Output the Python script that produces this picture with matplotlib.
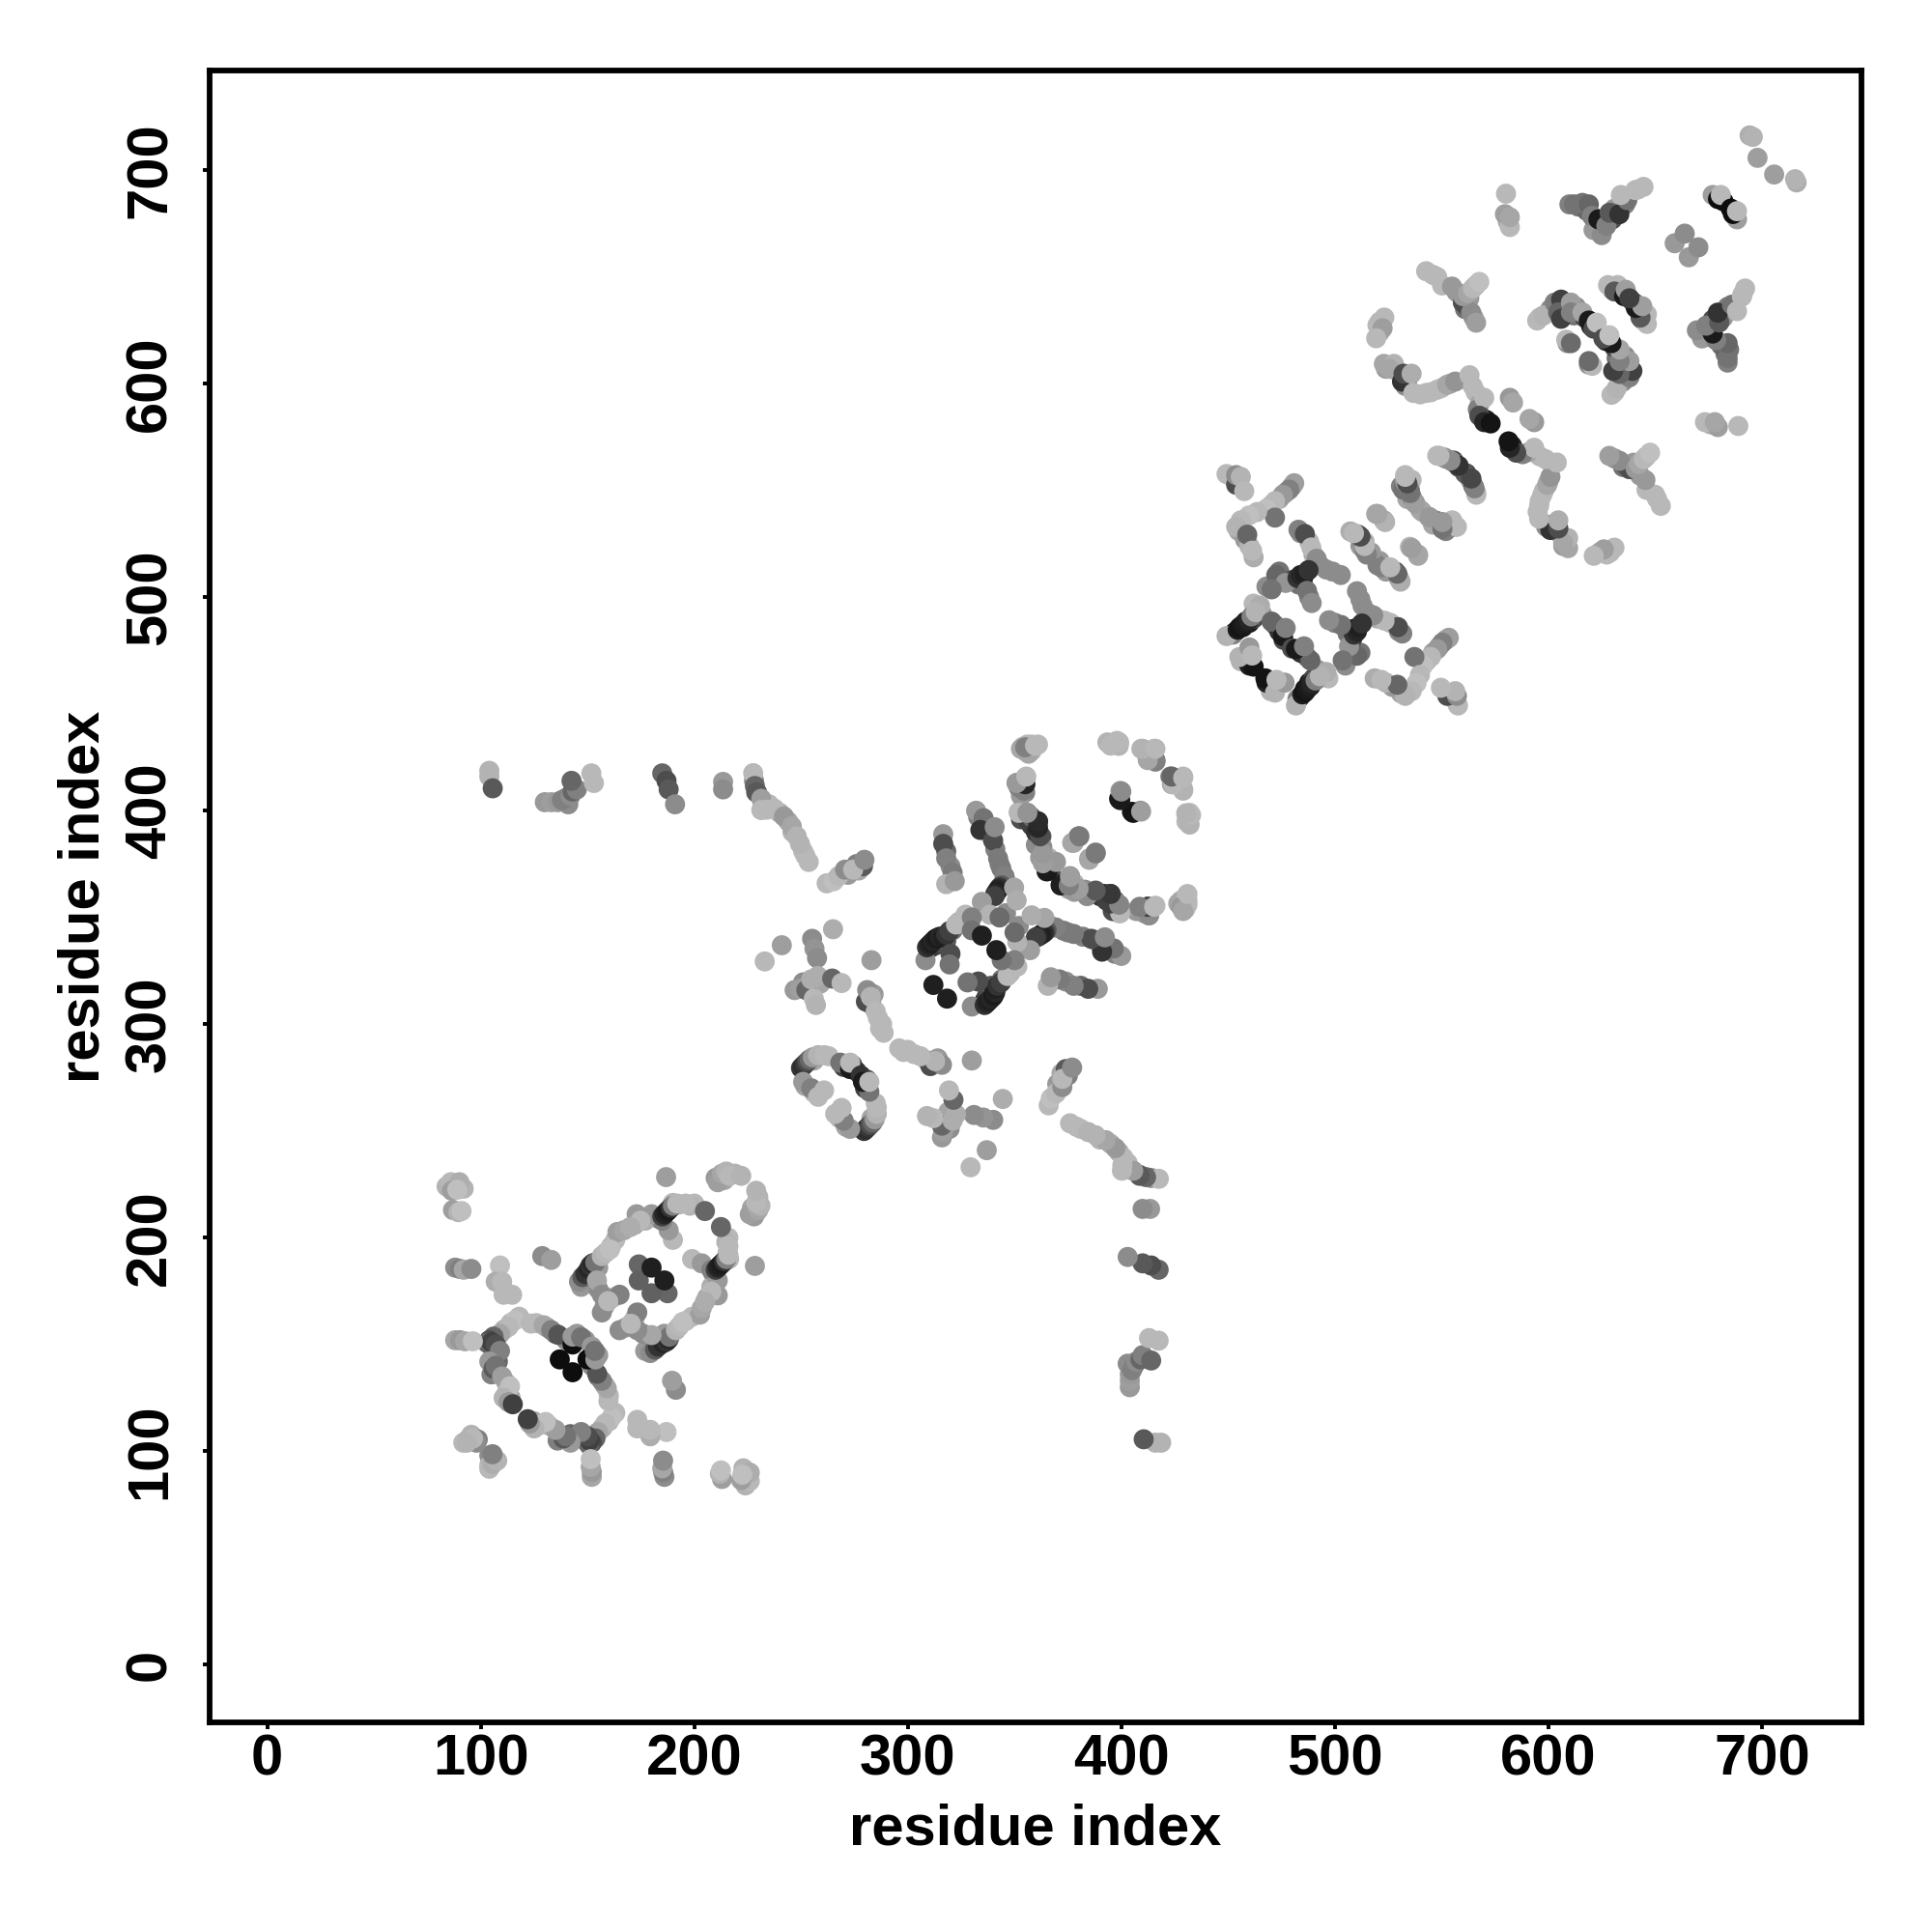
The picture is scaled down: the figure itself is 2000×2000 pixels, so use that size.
import numpy as np
import matplotlib
matplotlib.use('Agg')
import matplotlib.pyplot as plt

plt.rcParams['font.family'] = ['Liberation Sans', 'DejaVu Sans']
plt.rcParams['font.weight'] = 'bold'

# contact map is symmetric, so only the part above the diagonal is listed
# (residue i, residue j, grey level)

# contacts that sit underneath the others in the stacks
under_a = [
    (92,223,.7),(84,224,.7),(212,229,.62),(214,227,.65),(219,230,.7),(200,216,.72),(198,215,.7),
    (183,209,.6),(177,208,.68),(172,206,.65),(163,199,.72),(161,196,.72),(147,177,.6),(150,182,.3),
    (151,184,.18),(152,186,.12),(155,186,.6),(155,176,.55),(158,168,.6),(162,172,.72),
    (118,163,.72),(114,160,.7),(111,157,.68),(108,154,.5),(105,149,.35),(106,145,.55),(108,142,.4),
    (105,136,.5),(112,132,.7),(112,127,.72),(114,125,.65),(126,160,.72),(131,158,.6),(135,155,.42),
    (140,152,.55),(149,152,.6),(145,155,.6),
]
under_b = [
    (228,414,.55),(235,403,.72),(240,399,.68),(244,395,.68),(246,390,.7),(251,381,.72),(252,379,.72),
    (262,366,.72),(272,370,.6),(276,375,.5),(277,372,.65),(318,381,.4),(320,374,.55),(333,397,.5),
    (337,393,.4),(339,388,.72),(341,382,.5),(343,375,.5),(346,367,.6),(347,365,.65),(346,352,.55),
    (354,430,.7),(356,431,.72),(352,411,.6),(353,396,.3),(358,393,.25),(360,384,.55),(362,378,.6),
    (373,367,.3),(378,366,.7),(383,363,.55),(390,360,.2),(397,358,.4),(407,353,.6),(411,352,.5),(428,358,.7),
    (311,336,.2),(313,337,.25),(316,338,.3),(318,339,.35),(321,344,.45),(324,348,.7),
    (253,319,.5),(255,317,.55),(247,316,.6),(259,319,.65),(283,309,.6),(286,303,.72),(287,298,.72),(284,314,.6),
    (256,283,.65),(263,285,.72),(270,280,.25),(274,281,.3),(276,278,.2),(252,271,.65),(256,268,.72),
]
under_c = [
    (451,557,.65),(470,543,.72),(474,546,.65),(477,549,.6),(480,552,.55),(455,531,.65),(458,527,.6),(460,524,.7),
    (484,530,.55),(488,526,.72),(490,520,.68),(493,515,.55),(499,512,.55),(474,512,.45),(480,508,.3),(468,505,.55),
    (483,506,.45),(485,508,.2),(488,500,.5),(463,495,.6),(466,492,.6),(453,483.5,.12),(457,486,.1),(460,488,.12),
    (462,490,.3),(472,487,.45),(474,484,.2),(476,480,.3),(456,470,.7),(459,470,.15),(460,468,.12),
    (509,530,.6),(512,524,.6),(521,517,.6),(526,513,.5),(536,555,.72),(531,552,.5),(534,546,.65),(540,541,.65),
    (547,536,.55),(550,535,.5),(554,533,.6),(552,565,.35),(558,561,.35),(563,556,.4),(565,552,.6),
]
under_d = [
    (521,629,.72),(521,624,.68),(524,607,.6),(529,606,.65),(534,602,.4),(533,599,.55),(540,595,.72),(545,596,.72),
    (550,598,.72),(554,600,.62),(563,601,.7),(566,596,.72),(568,591,.65),(569,584,.2),(571,583,.12),(581,676,.68),
    (546,651,.72),(557,643,.6),(561,635,.45),(562,636,.35),(565,631,.6),(563,640,.6),(566,646,.7),
    (596,631,.72),(601,635,.55),(605,636,.35),(608,637,.4),(613,636,.55),(612,632,.45),(617,631,.3),(620,627,.2),
    (609,619,.55),(630,644,.6),(634,643,.2),(638,640,.35),
    (614,683,.45),(618,681,.4),(622,675,.3),(624,672,.5),(626,677,.2),(630,677,.3),(631,682,.6),(636,684,.5),(642,691,.72),
]

domain_a = [
    (86,226,.72),(88.5,225,.72),(90,226,.68),(86.5,222,.62),(89,222.5,.75),
    (87,213,.62),(89.5,212,.7),(91,212.5,.75),(186.8,228.4,.62),
    (210,228,.6),(211,226,.62),(213,230,.65),(215,231,.7),(216.5,229,.72),(222,229,.7),
    (205,212.5,.4),(196,216,.72),(193,215.6,.72),(190,216.3,.72),
    (190,199,.72),(188,203.5,.6),(185,208,.5),(180,211,.6),
    (185,210,.25),(186,211,.15),(187,212,.12),(188,213,.1),(189,214,.2),(190,215,.5),(192,216,.72),
    (173,211,.6),(174.8,208,.72),(164,202.7,.62),(167,203.5,.65),(170,205,.68),
    (146,179.4,.55),(147.6,181.6,.35),(149,183,.2),(150.6,185.4,.15),(151.4,187,.2),(152.5,188,.15),
    (153.6,188.4,.45),(156.7,191.4,.7),(158.5,193,.72),(160.5,194.5,.75),
    (154.4,180,.65),(156.7,165,.55),(156.7,173.3,.55),(165,173.3,.5),(159.7,170.3,.72),
    (174,187.5,.4),(174,180,.38),(180,186,.12),
    (116,161.3,.75),(113,158.3,.72),(109,155,.65),(106,153.7,.4),(104,152,.3),(103,150.7,.4),
    (105,151,.25),(107,150,.3),(109,147,.5),(104,142,.6),(106,138.7,.35),(107,140,.45),
    (110,135,.62),(113.7,130.4,.75),(110.7,125,.7),(113,123,.6),(115,122,.25),
    (123.5,159.8,.72),(129.5,159,.65),(133,156.7,.5),(136.3,154.5,.33),
    (143,150,.05),(143,153.7,.6),(147,153.4,.45),(137,143,.05),
    (88,152,.65),(90.3,152,.6),(92.6,151.5,.65),(96.3,151.5,.75),
    (88,186,.55),(90.3,185.4,.5),(92,185,.65),(95.6,185.4,.55),
    (109,187,.75),(107,179.4,.68),(110,179.4,.72),(110.7,173.3,.72),(114.7,173.3,.72),
    (128.8,191.4,.55),(133,189.6,.62),
    (91.8,104,.72),(94,105.5,.68),(95.6,107.7,.7),(98.6,105.5,.5),(104,98,.55),(106,96.4,.72),(104,93.4,.7),
]

long_range = [
    (104,418.7,.7),(104,416,.7),(105.6,410.5,.35),
    (130,404,.6),(133,404,.62),(136,404,.6),(141,403,.55),(138,405,.5),(140,406,.5),(142,407,.55),
    (143,409,.4),(145,410,.5),(142.5,414,.4),(151.8,417.5,.72),(153,413,.72),
    (185,417.5,.4),(187,414,.3),(188,410,.35),(191,403,.55),(213.5,413.5,.6),(213.5,410,.55),
    (229.4,408.6,.35),
]

domain_b = [
    (227.6,417.6,.72),(228.4,411.6,.4),(229,408.6,.35),(231.4,405.6,.62),(232,402.5,.62),(231.4,400.3,.72),
    (237.5,401,.72),(234,400.5,.72),(242,397.3,.6),(245.7,392.7,.65),(248,388,.7),(249.5,384.5,.7),(253.6,376,.72),
    (265.3,367,.75),(267.6,369.4,.72),(270.6,372.4,.55),(279,374,.35),(274.4,372.4,.72),(279.7,377,.55),
    (316.6,389,.6),(316.6,384.5,.3),(318,377.7,.5),(321,371,.48),(318,365.6,.7),(322,367,.6),
    (332,400,.6),(335.5,396.5,.45),(334,391,.2),(340,386,.3),(340.7,392.3,.55),(342.3,377.7,.48),
    (343.8,373,.48),(345.3,369.4,.5),(344,365,.35),(343,364,.2),(342.3,363,.15),(341.7,362,.12),(341,361,.15),
    (340.7,360,.25),(349.8,364,.65),(351,358,.68),(334.7,357.3,.62),(338.5,351.3,.7),(343,350,.42),
    (358,431,.72),(355,428,.6),(353,429,.65),(361,431,.72),(351,413,.55),(355,412.4,.25),(355,408.6,.5),(355,415.4,.72),
    (352,399.5,.72),(356.6,395,.25),(356,399,.52),(361,395,.22),(362.6,388,.35),(363.4,380,.62),
    (365,371.6,.12),(365,375.4,.5),(369,376,.62),
    (377,385,.65),(380,388,.48),(385,377.7,.65),(388,380.4,.48),
    (371.7,365.6,.1),(376,369.4,.6),(375.4,363.3,.62),(380,363.3,.6),(388,362,.3),(392,361,.15),(395,361,.17),
    (399,352,.72),(399,356,.58),(409.4,354.3,.5),(412.4,355,.15),(413,351,.6),(416,355.5,.72),
    (426.7,356.6,.65),(429.7,355,.5),(430.5,359.6,.72),
    (393.5,432,.7),(398,432.7,.72),(398.8,430.4,.7),(409.4,429,.7),(412.4,424.4,.72),(416,423.6,.4),(415.4,429,.72),
    (423,416,.5),(423.7,412.4,.65),(429,410,.7),(429,416,.72),(430.5,395,.72),(432,399,.72),
    (399,405.6,.08),(399.6,409.3,.62),(405,399.5,.1),(409,400,.55),
    (308.3,330,.55),(309,336,.2),(310,337,.15),(311,338,.12),(312,339,.15),(313,340,.12),(314,340.5,.1),
    (315,341,.15),(316.6,340.7,.12),(318,342,.2),(319.6,343.7,.25),(322.6,346.7,.72),(327,351.3,.72),
    (330,350,.5),(330,344,.45),(334.7,341.5,.12),(320,333,.3),(319.6,328,.45),(312,318.4,.12),
    (241,337,.62),(233,329.4,.72),(265,344.5,.68),(255.2,340,.55),(256.3,335.4,.58),(257.5,331,.55),(283,330,.62),
    (251,319.6,.55),(249.5,316.6,.62),(252.5,316,.4),(254.8,321,.68),(257.8,322.6,.68),(264.6,321.4,.4),(269,319.3,.72),
    (256,312,.72),(257,309,.7),
    (280.4,310.6,.3),(281,316,.55),(282.7,312.8,.7),(285,306,.72),(288,300,.72),(288.7,296,.72),
    (250,279.5,.2),(251,280.5,.18),(252,281.5,.22),(253,282.5,.3),(254,283.5,.4),(255.5,284.5,.6),(258,285.5,.7),(261,285.5,.72),
    (268.4,282,.45),(273,279,.1),(273,282,.72),(251,273,.6),(254.8,270,.5),(260.8,269,.72),(258,266,.72),
]

domain_c = [
    (449.3,557.7,.72),(453.8,552.7,.3),(453.8,557.2,.55),(456,556.4,.7),(457.6,549.7,.72),
    (481,553.4,.62),(478.7,550.4,.5),(475.7,548,.6),(472,545,.72),(468,541.4,.75),(472,537.3,.45),
    (463.6,539.9,.72),(459.8,538.3,.75),(456,536,.72),(453.8,533,.7),(459,529.3,.4),(462,518.7,.68),(461.3,521.8,.72),
    (483,531.6,.5),(486,529.6,.3),(489,523.3,.72),(491.5,518,.55),(496,513,.55),(502.8,510.4,.55),
    (472.6,510.4,.4),(477,506.7,.58),(470.4,503.7,.45),(482.5,509,.2),(484,510.4,.15),(486,511,.12),(487.7,512.7,.2),
    (487,503,.45),(489.2,497.3,.55),(462,497,.72),(465,496,.68),
    (452.3,482.5,.5),(449.3,481.8,.7),(454.5,484.8,.1),(455.5,486,.08),(456.8,487,.1),(458.3,488.6,.12),(459.8,489.3,.15),
    (461,491,.5),(463,493,.7),(470.4,488.6,.4),(475.7,481.8,.1),(477,485.6,.5),
    (462,467.5,.08),(455.3,472,.7),(460,476.5,.6),(461.3,472.7,.72),
    (507.3,530.8,.68),(511,529.3,.4),(514,521.8,.5),(514,526,.72),
    (520,515,.5),(524,514,.72),(528.4,512,.3),(530,509,.72),(519.4,539,.65),(523,536,.62),
    (535.2,523.6,.7),(539,520,.65),
    (533,557.2,.72),(534.5,553.5,.72),(532,550.4,.45),(535.2,550.4,.6),(537.5,544.4,.6),(544,537.6,.62),
    (548.8,535.4,.45),(553.3,534,.3),(556.4,533,.72),
    (548,566.3,.72),(551,565.5,.5),(555.6,564,.28),(561.6,558,.2),(564,554.2,.55),(566.2,549,.72),
]

domain_d = [
    (523.2,631,.72),(520,627.4,.72),(522.4,626,.62),(519.4,621.3,.72),
    (523,609.3,.65),(527.7,609.3,.7),(525.4,607,.65),(531.5,601,.2),(532.2,604.7,.3),(536,604.7,.68),
    (536.8,595.7,.72),(542.8,595.7,.72),(548,597.2,.72),(552.6,599.5,.65),(556.4,601,.58),
    (563.1,604,.72),(564.7,598.7,.72),(567,588,.5),(570,593.4,.72),(567.7,585,.3),(570,582,.15),(573,581.4,.08),
    (582,593.4,.6),(583.5,591.2,.65),
    (580.2,689,.72),(579.7,679.4,.62),(582,673.4,.72),(582,678,.65),
    (542.8,652.7,.72),(548,650,.72),(550.3,646,.72),(554.9,645.5,.6),(560,638,.3),(563.9,633.4,.55),(566.2,628.6,.62),
    (560.1,641,.6),(562.4,642.4,.65),(564.7,644.7,.72),(567.7,647.7,.75),
    (594.8,629.6,.72),(597.8,632,.7),(603,638,.5),(606,639.4,.25),(604.6,633.4,.4),(606,630.4,.25),(610.6,638,.62),
    (610.6,633.4,.5),(616,633.4,.65),(619,629.6,.1),(621.2,625.8,.3),(622.7,628.6,.75),
    (608.4,620.6,.72),(610.6,619,.42),
    (628,646.2,.72),(632.5,646.2,.72),(631,643.2,.35),(635.5,641,.1),(636.3,644,.62),(640,638,.25),
    (694.3,716.3,.68),(695.8,715.6,.7),(698,705.8,.62),
    (677,688.4,.62),(679.5,686.5,.05),(682,685.5,.05),(680.8,688.4,.72),
    (659.2,665.8,.6),(663.9,670.3,.55),
    (609.9,684,.5),(612.1,684,.45),(616,684.7,.45),(619,684,.4),(621.2,672,.6),(625,669.6,.55),(620.4,678.6,.5),
    (623.5,677,.1),(627.2,674,.5),(628.7,680.1,.35),(633.3,679.4,.2),(637,686,.45),(634,688.4,.72),
    (640.8,690.7,.72),(644.6,692.2,.72),
]

ticks = [0, 100, 200, 300, 400, 500, 600, 700]

contacts = np.array(under_a + under_b + under_c + under_d
                    + domain_a + long_range + domain_b + domain_c + domain_d)
res_i = np.concatenate([contacts[:, 0], contacts[:, 1]])
res_j = np.concatenate([contacts[:, 1], contacts[:, 0]])
grey = np.concatenate([contacts[:, 2], contacts[:, 2]])

fig = plt.figure(figsize=(10, 10), dpi=200)
ax = fig.add_axes([217/2000, 1 - 1783/2000, 1710/2000, 1710/2000])

ax.scatter(res_i, res_j, c=[str(g) for g in grey], s=56, linewidths=0)

ax.set_xlim(-27, 746.7)
ax.set_ylim(-27, 746.7)
ax.set_xticks(ticks)
ax.set_yticks(ticks)
ax.tick_params(length=2.6, width=1.4, labelsize=21.5)
ax.tick_params(axis='x', pad=1.5)
ax.tick_params(axis='y', pad=9.5)
for lab in ax.get_yticklabels():
    lab.set_rotation(90)
    lab.set_va('center')
for spine in ax.spines.values():
    spine.set_linewidth(2.1)

ax.set_xlabel('residue index', fontsize=21.5, fontweight='bold', labelpad=6)
ax.set_ylabel('residue index', fontsize=21.5, fontweight='bold', labelpad=5)

fig.savefig('out.png', dpi=200)
